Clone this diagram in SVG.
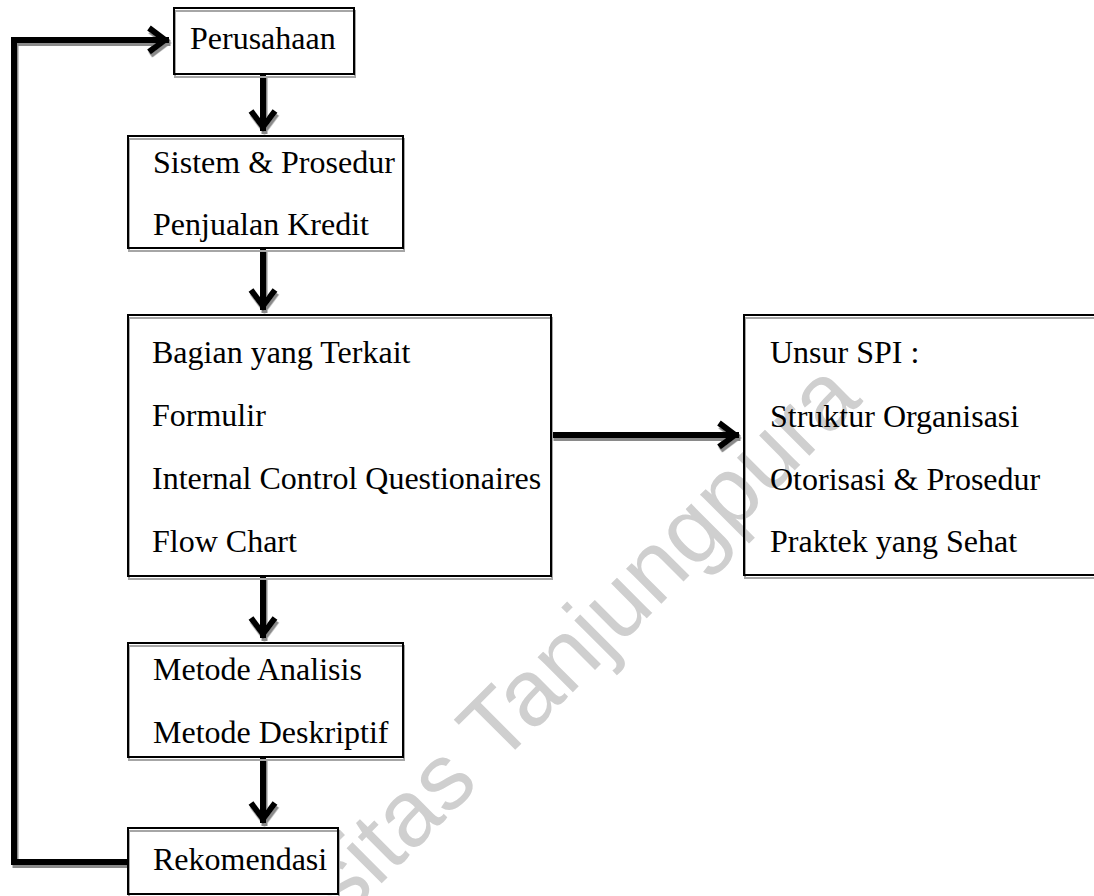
<svg xmlns="http://www.w3.org/2000/svg" width="1094" height="896" viewBox="0 0 1094 896">
<style>
  .box { fill: #ffffff; stroke: #000000; stroke-width: 2; }
  .boxnf { fill: none; stroke: #000000; stroke-width: 2; }
  .shadow { fill: none; stroke: #a6a6a6; stroke-width: 2; }
  .lbl { font-family: "Liberation Serif", "Times New Roman", serif; font-size: 32px; fill: #000000; }
  .wm { font-family: "Liberation Sans", Arial, sans-serif; font-size: 94px; fill: #cfcfcf; }
  .conn { fill: none; stroke: #000000; stroke-width: 6; stroke-linejoin: miter; }
</style>
<defs>
  <marker id="chev" markerUnits="userSpaceOnUse" viewBox="-30 -20 40 40" markerWidth="40" markerHeight="40" refX="0" refY="0" orient="auto" overflow="visible">
    <path d="M-20,-12 L-4,0 L-20,12" fill="none" stroke="#000000" stroke-width="6" stroke-linejoin="miter"/>
  </marker>
  <filter id="dshadow" x="-10%" y="-10%" width="120%" height="120%">
    <feDropShadow dx="1.5" dy="3" stdDeviation="0.4" flood-color="#8a8a8a" flood-opacity="1"/>
  </filter>
</defs>
<rect x="0" y="0" width="1094" height="896" fill="#ffffff"/>

<text class="wm" transform="translate(344,921) rotate(-45)">sitas Tanjungpura</text>

<g id="connectors" filter="url(#dshadow)">
  <path class="conn" d="M263,75 V131" marker-end="url(#chev)"/>
  <path class="conn" d="M263,249 V310" marker-end="url(#chev)"/>
  <path class="conn" d="M552,435 H739" marker-end="url(#chev)"/>
  <path class="conn" d="M263,577 V638" marker-end="url(#chev)"/>
  <path class="conn" d="M263,758 V823" marker-end="url(#chev)"/>
  <path class="conn" d="M128,862 H14 V40 H169" marker-end="url(#chev)"/>
</g>

<g id="node-perusahaan">
  <rect class="box" x="174" y="8" width="180" height="66"/>
  <rect class="shadow" x="175" y="11" width="180" height="66"/>
  <rect class="boxnf" x="174" y="8" width="180" height="66"/>
  <text class="lbl" x="190" y="49">Perusahaan</text>
</g>

<g id="node-sistem">
  <rect class="box" x="128" y="136" width="275" height="112"/>
  <rect class="shadow" x="129" y="139" width="275" height="112"/>
  <rect class="boxnf" x="128" y="136" width="275" height="112"/>
  <text class="lbl" x="153" y="173">Sistem &amp; Prosedur</text>
  <text class="lbl" x="153" y="235">Penjualan Kredit</text>
</g>

<g id="node-bagian">
  <rect class="box" x="128" y="315" width="423" height="261"/>
  <rect class="shadow" x="129" y="318" width="423" height="261"/>
  <rect class="boxnf" x="128" y="315" width="423" height="261"/>
  <text class="lbl" x="152" y="363">Bagian yang Terkait</text>
  <text class="lbl" x="152" y="426">Formulir</text>
  <text class="lbl" x="152" y="489">Internal Control Questionaires</text>
  <text class="lbl" x="152" y="552">Flow Chart</text>
</g>

<g id="node-spi">
  <rect class="shadow" x="745" y="318" width="360" height="260"/>
  <rect class="boxnf" x="744" y="315" width="360" height="260"/>
  <text class="lbl" x="770" y="363">Unsur SPI :</text>
  <text class="lbl" x="770" y="427">Struktur Organisasi</text>
  <text class="lbl" x="770" y="490">Otorisasi &amp; Prosedur</text>
  <text class="lbl" x="770" y="552">Praktek yang Sehat</text>
</g>

<g id="node-metode">
  <rect class="box" x="128" y="643" width="275" height="114"/>
  <rect class="shadow" x="129" y="646" width="275" height="114"/>
  <rect class="boxnf" x="128" y="643" width="275" height="114"/>
  <text class="lbl" x="153" y="680">Metode Analisis</text>
  <text class="lbl" x="153" y="743">Metode Deskriptif</text>
</g>

<g id="node-rekomendasi">
  <rect class="box" x="128" y="828" width="210" height="66"/>
  <rect class="shadow" x="129" y="831" width="210" height="66"/>
  <rect class="boxnf" x="128" y="828" width="210" height="66"/>
  <text class="lbl" x="153" y="870">Rekomendasi</text>
</g>
</svg>
